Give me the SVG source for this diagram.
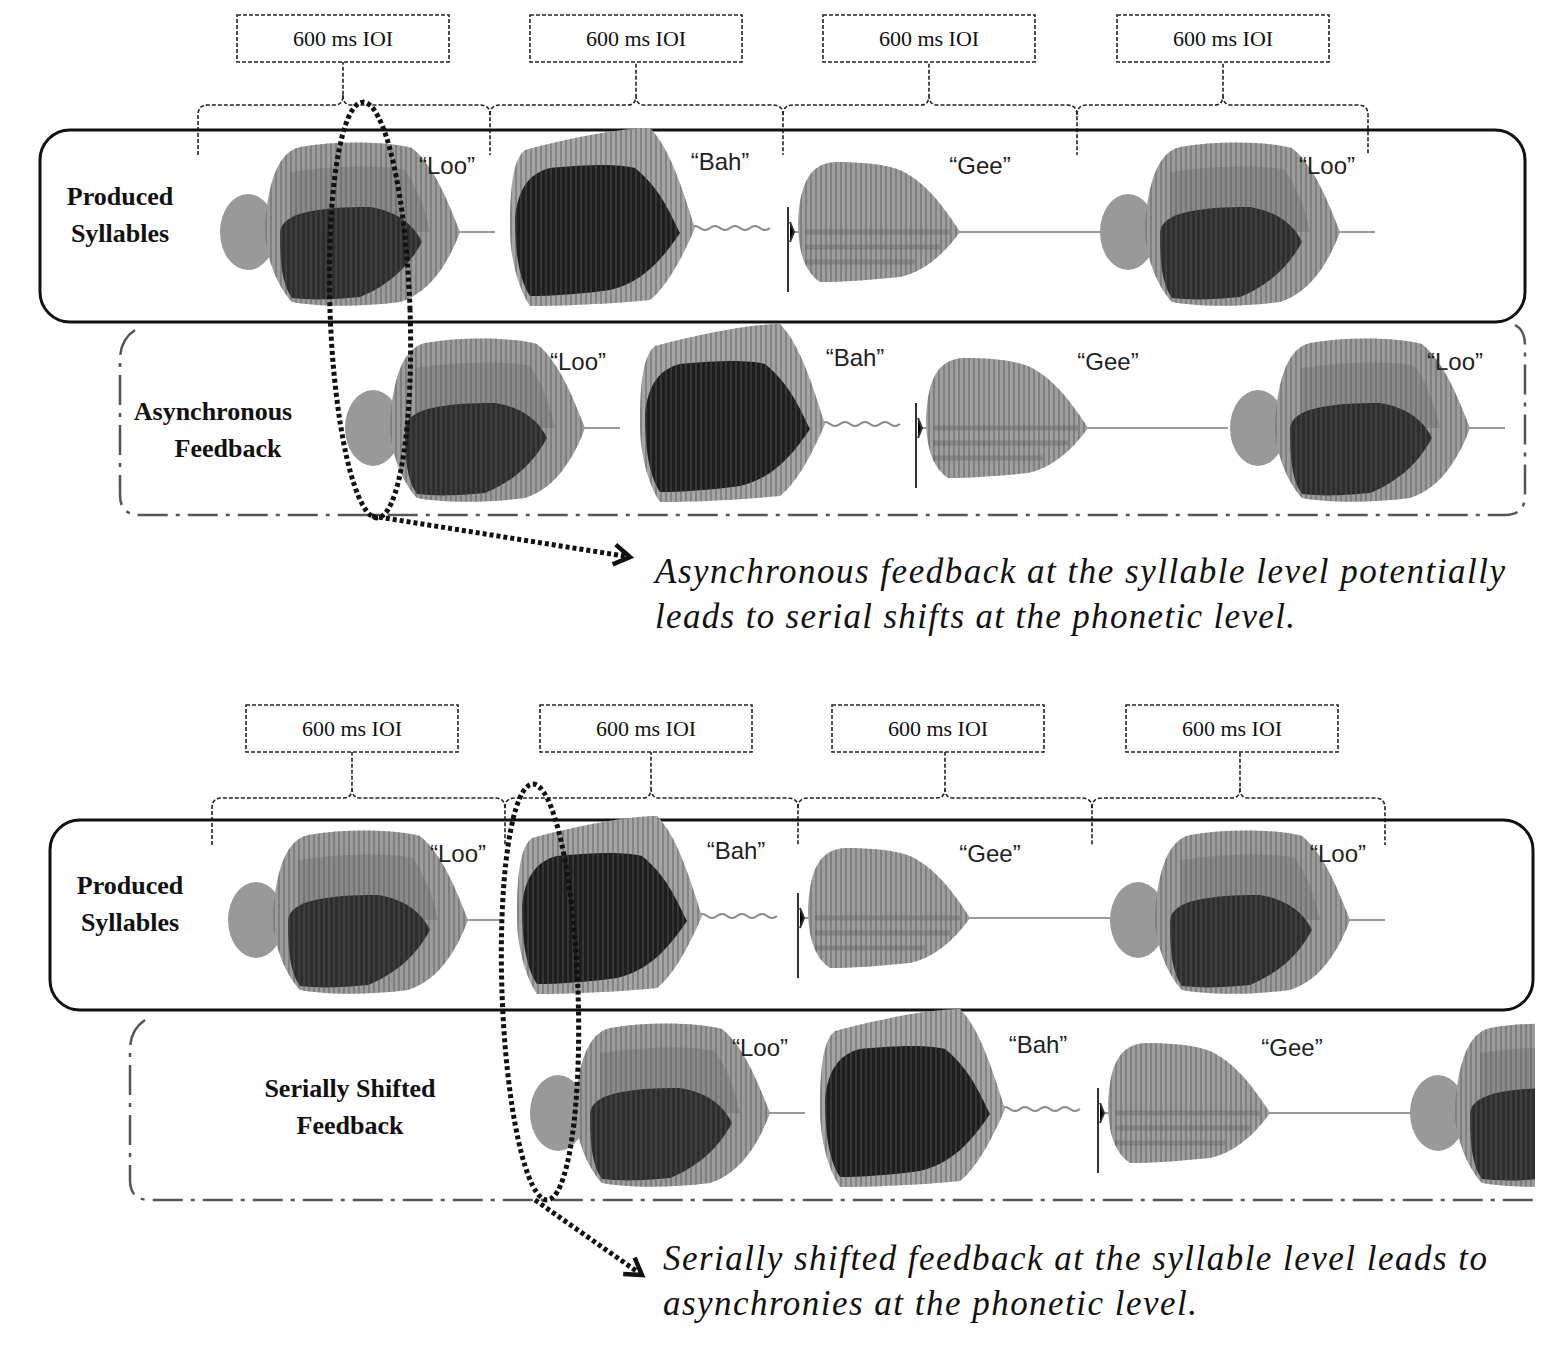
<svg xmlns="http://www.w3.org/2000/svg" xmlns:xlink="http://www.w3.org/1999/xlink" width="1558" height="1351" viewBox="0 0 1558 1351">
<style>
.ioi{fill:#fff;stroke:#222;stroke-width:1.6;stroke-dasharray:4 2}
.ioit{font-family:"Liberation Serif",serif;font-size:22px;fill:#111;text-anchor:middle}
.brace{fill:none;stroke:#222;stroke-width:1.6;stroke-dasharray:4 2}
.lab{font-family:"Liberation Sans",sans-serif;font-size:24px;fill:#222;text-anchor:middle}
.bold{font-family:"Liberation Serif",serif;font-size:26px;font-weight:bold;fill:#111;text-anchor:middle}
.ital{font-family:"Liberation Serif",serif;font-size:35px;font-style:italic;fill:#111}
.solid{fill:none;stroke:#111;stroke-width:3}
.dd{fill:none;stroke:#555;stroke-width:2.5;stroke-dasharray:30 8 4 8}
.dots{fill:none;stroke:#111;stroke-width:5;stroke-dasharray:4 3}
.base{stroke:#999;stroke-width:2}
</style>
<defs>
<pattern id="st" width="5" height="10" patternUnits="userSpaceOnUse"><rect width="5" height="10" fill="none"/><line x1="1" y1="0" x2="1" y2="10" stroke="#555" stroke-width="1.5" opacity="0.55"/></pattern>
<marker id="arr" markerWidth="26" markerHeight="26" refX="20" refY="13" orient="auto" markerUnits="userSpaceOnUse" viewBox="0 0 26 26"><path d="M4,3 L20,13 L4,23" fill="none" stroke="#111" stroke-width="4.5"/></marker>
<path id="looBody" d="M45,-5 C48,-50 58,-80 80,-85 C120,-92 170,-90 192,-84 C215,-65 228,-30 240,0 C225,40 205,62 180,70 C140,75 100,75 72,70 C58,55 48,30 45,5 Z"/>
<g id="loo">
<line class="base" x1="0" y1="0" x2="275" y2="0"/>
<ellipse cx="28" cy="0" rx="28" ry="38" fill="#999"/>
<use xlink:href="#looBody" fill="#9c9c9c"/>
<path d="M70,-60 C110,-66 160,-68 185,-62 C200,-40 205,-20 210,0 L70,0 Z" fill="#777" opacity="0.5"/>
<path d="M60,0 C62,-20 100,-25 150,-25 C180,-20 195,-5 202,10 C186,40 162,56 140,65 C110,68 90,68 72,66 C60,50 60,20 60,0 Z" fill="#2e2e2e"/>
<use xlink:href="#looBody" fill="url(#st)"/>
</g>
<path id="bahBody" d="M0,0 C0,-50 5,-70 15,-78 C60,-90 110,-100 140,-100 C160,-80 172,-40 185,0 C170,35 155,60 140,72 C100,76 50,78 20,78 C8,60 0,30 0,0 Z"/>
<g id="bah">
<path d="M180,0 q5,-4 10,0 t10,0 t10,0 t10,0 t10,0 t10,0 t10,0 t10,0" fill="none" stroke="#888" stroke-width="2"/>
<use xlink:href="#bahBody" fill="#a5a5a5"/>
<path d="M5,-10 C8,-40 20,-55 40,-60 C80,-64 110,-64 125,-60 C150,-40 160,-15 170,5 C150,35 130,55 100,62 C70,66 40,68 20,68 C8,50 5,20 5,-10 Z" fill="#1e1e1e"/>
<use xlink:href="#bahBody" fill="url(#st)"/>
</g>
<path id="geeBody" d="M8,-10 C10,-50 20,-68 45,-70 C70,-70 95,-68 110,-62 C135,-50 152,-28 170,0 C152,25 132,40 110,45 C80,48 50,50 30,50 C15,40 8,20 8,-10 Z"/>
<g id="gee">
<line class="base" x1="0" y1="0" x2="310" y2="0"/>
<path d="M0,-10 L4,0 L0,10 M-2,-25 V60" stroke="#333" stroke-width="2"/>
<use xlink:href="#geeBody" fill="#9e9e9e"/>
<path d="M15,0 H160 M15,15 H150 M15,30 H125" stroke="#777" stroke-width="5" opacity="0.6"/>
<use xlink:href="#geeBody" fill="url(#st)"/>
</g>
</defs>

<g id="top-ioi">
<rect class="ioi" x="237" y="15" width="212" height="47"/><text class="ioit" x="343" y="46">600 ms IOI</text>
<rect class="ioi" x="530" y="15" width="212" height="47"/><text class="ioit" x="636" y="46">600 ms IOI</text>
<rect class="ioi" x="823" y="15" width="212" height="47"/><text class="ioit" x="929" y="46">600 ms IOI</text>
<rect class="ioi" x="1117" y="15" width="212" height="47"/><text class="ioit" x="1223" y="46">600 ms IOI</text>
</g>
<g id="top-braces">
<path class="brace" d="M198,155 V115 Q198,105 208,105 H335 Q343,105 343,95 V62 M343,95 Q343,105 351,105 H480 Q490,105 490,115 V155"/>
<path class="brace" d="M490,115 Q490,105 500,105 H628 Q636,105 636,95 V62 M636,95 Q636,105 644,105 H773 Q783,105 783,115 V155"/>
<path class="brace" d="M783,115 Q783,105 793,105 H921 Q929,105 929,95 V62 M929,95 Q929,105 937,105 H1067 Q1077,105 1077,115 V155"/>
<path class="brace" d="M1077,115 Q1077,105 1087,105 H1215 Q1223,105 1223,95 V62 M1223,95 Q1223,105 1231,105 H1358 Q1368,105 1368,115 V155"/>
</g>
<g id="top-produced">
<rect class="solid" x="40" y="130" width="1485" height="192" rx="30"/>
<text class="bold" x="120" y="205">Produced</text><text class="bold" x="120" y="242">Syllables</text>
<use xlink:href="#loo" transform="translate(220,232)"/>
<use xlink:href="#bah" transform="translate(510,228)"/>
<use xlink:href="#gee" transform="translate(790,232)"/>
<use xlink:href="#loo" transform="translate(1100,232)"/>
<text class="lab" x="447" y="174">“Loo”</text><text class="lab" x="720" y="170">“Bah”</text>
<text class="lab" x="980" y="174">“Gee”</text><text class="lab" x="1327" y="174">“Loo”</text>
</g>
<g id="top-feedback">
<path class="dd" d="M135,330 Q120,340 120,360 V495 Q120,515 140,515 H1505 Q1525,515 1525,495 V345 Q1525,330 1515,325"/>
<text class="bold" x="213" y="420">Asynchronous</text><text class="bold" x="228" y="457">Feedback</text>
<use xlink:href="#loo" transform="translate(345,428)"/>
<use xlink:href="#bah" transform="translate(640,424)"/>
<use xlink:href="#gee" transform="translate(918,428)"/>
<use xlink:href="#loo" transform="translate(1230,428)"/>
<text class="lab" x="578" y="370">“Loo”</text><text class="lab" x="855" y="366">“Bah”</text>
<text class="lab" x="1108" y="370">“Gee”</text><text class="lab" x="1455" y="370">“Loo”</text>
</g>
<g id="top-note">
<text class="ital" x="655" y="583" textLength="850" lengthAdjust="spacing">Asynchronous feedback at the syllable level potentially</text>
<text class="ital" x="655" y="628" textLength="640" lengthAdjust="spacing">leads to serial shifts at the phonetic level.</text>
</g>

<g id="bot-ioi">
<rect class="ioi" x="246" y="705" width="212" height="47"/><text class="ioit" x="352" y="736">600 ms IOI</text>
<rect class="ioi" x="540" y="705" width="212" height="47"/><text class="ioit" x="646" y="736">600 ms IOI</text>
<rect class="ioi" x="832" y="705" width="212" height="47"/><text class="ioit" x="938" y="736">600 ms IOI</text>
<rect class="ioi" x="1126" y="705" width="212" height="47"/><text class="ioit" x="1232" y="736">600 ms IOI</text>
</g>
<g id="bot-braces">
<path class="brace" d="M212,845 V808 Q212,798 222,798 H344 Q352,798 352,788 V752 M352,788 Q352,798 360,798 H495 Q505,798 505,808 V845"/>
<path class="brace" d="M505,808 Q505,798 515,798 H643 Q651,798 651,788 V752 M651,788 Q651,798 659,798 H788 Q798,798 798,808 V845"/>
<path class="brace" d="M798,808 Q798,798 808,798 H937 Q945,798 945,788 V752 M945,788 Q945,798 953,798 H1082 Q1092,798 1092,808 V845"/>
<path class="brace" d="M1092,808 Q1092,798 1102,798 H1232 Q1240,798 1240,788 V752 M1240,788 Q1240,798 1248,798 H1375 Q1385,798 1385,808 V845"/>
</g>
<g id="bot-produced">
<rect class="solid" x="50" y="820" width="1483" height="190" rx="30"/>
<text class="bold" x="130" y="894">Produced</text><text class="bold" x="130" y="931">Syllables</text>
<use xlink:href="#loo" transform="translate(228,920)"/>
<use xlink:href="#bah" transform="translate(517,916)"/>
<use xlink:href="#gee" transform="translate(800,918)"/>
<use xlink:href="#loo" transform="translate(1110,920)"/>
<text class="lab" x="458" y="862">“Loo”</text><text class="lab" x="736" y="859">“Bah”</text>
<text class="lab" x="990" y="862">“Gee”</text><text class="lab" x="1338" y="862">“Loo”</text>
</g>
<g id="bot-feedback">
<path class="dd" d="M145,1020 Q130,1030 130,1050 V1180 Q130,1200 150,1200 H1535"/>
<text class="bold" x="350" y="1097">Serially Shifted</text><text class="bold" x="350" y="1134">Feedback</text>
<use xlink:href="#loo" transform="translate(530,1113)"/>
<use xlink:href="#bah" transform="translate(820,1109)"/>
<use xlink:href="#gee" transform="translate(1100,1113)"/>
<svg x="1410" y="1020" width="125" height="180" viewBox="0 -93 125 180" overflow="hidden"><use xlink:href="#loo"/></svg>
<text class="lab" x="760" y="1056">“Loo”</text><text class="lab" x="1038" y="1053">“Bah”</text>
<text class="lab" x="1292" y="1056">“Gee”</text>
</g>
<g id="bot-note">
<text class="ital" x="663" y="1270" textLength="824" lengthAdjust="spacing">Serially shifted feedback at the syllable level leads to</text>
<text class="ital" x="663" y="1315" textLength="534" lengthAdjust="spacing">asynchronies at the phonetic level.</text>
</g>

<g id="connectors">
<ellipse class="dots" cx="370" cy="310" rx="40" ry="208" transform="rotate(-2 370 310)"/>
<path class="dots" d="M372,516 L630,557" marker-end="url(#arr)"/>
<ellipse class="dots" cx="540" cy="992" rx="38" ry="208" transform="rotate(-2 540 992)"/>
<path class="dots" d="M535,1200 L642,1275" marker-end="url(#arr)"/>
</g>
</svg>
